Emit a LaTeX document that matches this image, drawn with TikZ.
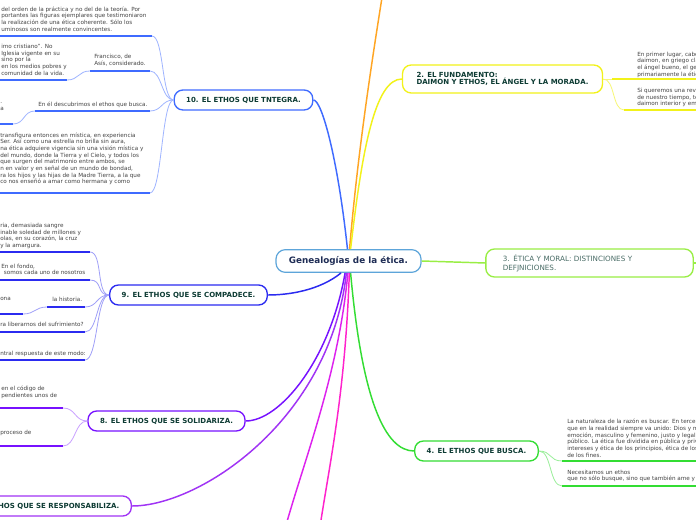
\documentclass[tikz,border=0pt]{standalone}
\usepackage{fontspec}
\setmainfont{DejaVu Sans}
\definecolor{rootline}{HTML}{5DA5DA}
\definecolor{rootink}{HTML}{1F2D55}
\definecolor{branchink}{HTML}{0D3B33}
\definecolor{leafink}{HTML}{444444}
\definecolor{orangeb}{HTML}{FFA523}
\definecolor{yellowb}{HTML}{F2F21A}
\definecolor{limeb}{HTML}{99EE44}
\definecolor{greenb}{HTML}{33DD33}
\definecolor{pinkb}{HTML}{FF22CC}
\definecolor{magb}{HTML}{DD22EE}
\definecolor{purpleb}{HTML}{A033F5}
\definecolor{violetb}{HTML}{7711FF}
\definecolor{blueb}{HTML}{2B2BF0}
\definecolor{skyb}{HTML}{3F6BFF}
\newcommand\leaffont{\fontsize{4.25}{5}\selectfont}
\newcommand\branchfont{\fontsize{5.25}{5.8}\selectfont\bfseries}
\begin{document}
\begin{tikzpicture}[x=0.75pt, y=-0.75pt,
    root/.style={draw=rootline, line width=0.9pt, rounded corners=7pt, fill=white, text=rootink,
      font=\fontsize{6.6}{8}\selectfont\bfseries, inner xsep=9.75pt, minimum height=17pt},
    branch/.style={draw=#1, line width=1pt, rounded corners=6.5pt, fill=white, text=branchink,
      font=\branchfont, inner xsep=9pt, minimum height=15pt},
    leaf/.style={anchor=north west, inner sep=0pt, align=left, text=leafink, font=\leaffont},
    link/.style={draw=#1, line width=1.1pt},
    twig/.style={draw=#1, line width=0.6pt},
    underline/.style={draw=#1, line width=1.4pt}]
    \useasboundingbox (0,0) rectangle (696,520);
    \fill[white] (0,0) rectangle (696,520);
    \clip (0,0) rectangle (696,520);
    % main topics
    \node[root] (root) at (348.5,261) {Genealogías de la ética.};
    \node[branch=yellowb, align=left, inner xsep=10.5pt, minimum height=21pt] (n2) at (502.5,79) {2. EL FUNDAMENTO:\\DAIMON Y ETHOS, EL ÁNGEL Y LA MORADA.};
    \node[branch=limeb, font=\fontsize{5.4}{6.7}\selectfont, text=branchink!75, align=left, text width=130pt, inner xsep=12.75pt, minimum height=21pt] (n3) at (589.5,263) {3. ÉTICA Y MORAL: DISTINCIONES Y\\DEFJNICIONES.};
    \node[branch=greenb] (n4) at (476.5,451) {4. EL ETHOS QUE BUSCA.};
    \node[branch=purpleb, anchor=east] (n7) at (132,506) {7. EL ETHOS QUE SE RESPONSABILIZA.};
    \node[branch=violetb] (n8) at (166.5,421) {8. EL ETHOS QUE SE SOLIDARIZA.};
    \node[branch=blueb] (n9) at (188.5,295) {9. EL ETHOS QUE SE COMPADECE.};
    \node[branch=skyb] (n10) at (243.5,100) {10. EL ETHOS QUE TNTEGRA.};
    \coordinate (n1) at (384,-15);
    \coordinate (n5) at (318,540);
    \coordinate (n6) at (282,540);
    \coordinate (n3out) at (720,263);
    % links from the centre
    \draw[link=orangeb] (root.85) .. controls (358,150) and (372,60) .. (n1);
    \draw[link=yellowb] (root.80) .. controls (362,150) and (375,79) .. (n2.west);
    \draw[link=limeb] (root.east) -- (n3.west);
    \draw[link=limeb] (n3.east) -- (n3out);
    \draw[link=greenb] (root.-80) .. controls (362,400) and (385,451) .. (n4.west);
    \draw[link=pinkb] (root.-86) .. controls (345,400) and (328,470) .. (n5);
    \draw[link=magb] (root.-93) .. controls (338,380) and (300,470) .. (n6);
    \draw[link=purpleb] (root.-100) .. controls (330,420) and (200,506) .. (n7.east);
    \draw[link=violetb] (root.-106) .. controls (330,360) and (280,421) .. (n8.east);
    \draw[link=blueb] (root.-122) .. controls (320,290) and (290,295) .. (n9.east);
    \draw[link=skyb] (root.95) .. controls (338,160) and (322,100) .. (n10.east);
    % 10
    \node[leaf] (l10a) at (1,6.5) {del orden de la práctica y no del de la teoría. Por\\portantes las figuras ejemplares que testimoniaron\\la realización de una ética coherente. Sólo los\\uminosos son realmente convincentes.};
    \coordinate (s10a) at (-5,36); \coordinate (e10a) at (152,36);
    \node[leaf] (l10b) at (94,54) {Francisco, de\\Asís, considerado.};
    \coordinate (s10b) at (90,71); \coordinate (e10b) at (150,71);
    \node[leaf] (l10b1) at (1,44) {imo cristiano". No\\Iglesia vigente en su\\sino por la\\en los medios pobres y\\comunidad de la vida.};
    \coordinate (s10b1) at (-5,80); \coordinate (e10b1) at (67,80);
    \node[leaf] (l10c) at (38,102) {En él descubrimos el ethos que busca.};
    \coordinate (s10c) at (35,111); \coordinate (e10c) at (150,111);
    \node[leaf] (l10c1) at (0,102.5) {.\\a};
    \coordinate (s10c1) at (-5,124); \coordinate (e10c1) at (13,124);
    \node[leaf] (l10d) at (0,132.5) {transfigura entonces en mística, en experiencia\\Ser. Así como una estrella no brilla sin aura,\\na ética adquiere vigencia sin una visión mística y\\del mundo, donde la Tierra y el Cielo, y todos los\\que surgen del matrimonio entre ambos, se\\n en valor y en señal de un mundo de bondad,\\ra los hijos y las hijas de la Madre Tierra, a la que\\co nos enseñó a amar como hermana y como};
    \coordinate (s10d) at (-5,193); \coordinate (e10d) at (150,193);
    \foreach \k in {a,b,c,d}
      \draw[twig=skyb!50] (n10.west) .. controls +(-12,0) and +(12,0) .. (e10\k);
    \draw[twig=skyb!50] (s10b) .. controls +(-12,0) and +(12,0) .. (e10b1);
    \draw[twig=skyb!50] (s10c) .. controls +(-12,0) and +(12,0) .. (e10c1);
    \foreach \k in {a,b,b1,c,c1,d}
      \draw[underline=skyb] (s10\k) -- (e10\k);
    % 9
    \node[leaf] (l9a) at (0,223) {ria, demasiada sangre\\inable soledad de millones y\\olas, en su corazón, la cruz\\y la amargura.};
    \coordinate (s9a) at (-5,252); \coordinate (e9a) at (90,252);
    \node[leaf] (l9b) at (1,263.5) {En el fondo,\\\hspace*{2pt}somos cada uno de nosotros};
    \coordinate (s9b) at (-5,280); \coordinate (e9b) at (90,280);
    \node[leaf] (l9c) at (52,297) {la historia.};
    \coordinate (s9c) at (47,307); \coordinate (e9c) at (85,307);
    \node[leaf] (l9c1) at (0,297) {ona};
    \coordinate (s9c1) at (-5,314); \coordinate (e9c1) at (23,314);
    \node[leaf] (l9d) at (0,322) {ra liberarnos del sufrimiento?};
    \coordinate (s9d) at (-5,332); \coordinate (e9d) at (85,332);
    \node[leaf] (l9e) at (0,350.5) {ntral respuesta de este modo:};
    \coordinate (s9e) at (-5,360); \coordinate (e9e) at (85,360);
    \foreach \k in {a,b,c,d,e}
      \draw[twig=blueb!45] (n9.west) .. controls +(-13,0) and +(13,0) .. (e9\k);
    \draw[twig=blueb!45] (s9c) .. controls +(-12,0) and +(12,0) .. (e9c1);
    \foreach \k in {a,b,c,c1,d,e}
      \draw[underline=blueb] (s9\k) -- (e9\k);
    % 8
    \node[leaf] (l8a) at (1,386) {en el código de\\pendientes unos de};
    \coordinate (s8a) at (-5,408); \coordinate (e8a) at (63,408);
    \node[leaf] (l8b) at (0,430) {proceso de};
    \coordinate (s8b) at (-5,446); \coordinate (e8b) at (63,446);
    \foreach \k in {a,b}
      \draw[twig=violetb!40] (n8.west) .. controls +(-13,0) and +(13,0) .. (e8\k);
    \foreach \k in {a,b}
      \draw[underline=violetb] (s8\k) -- (e8\k);
    % 2
    \node[leaf] (l2a) at (637,51.5) {En primer lugar, cabe\\daimon, en griego clá\\el ángel bueno, el gen\\primariamente la étic};
    \coordinate (s2a) at (612,79); \coordinate (e2a) at (700,79);
    \node[leaf] (l2b) at (637,88) {Si queremos una revo\\de nuestro tiempo, te\\daimon interior y emp};
    \coordinate (s2b) at (624,110); \coordinate (e2b) at (700,110);
    \draw[twig=yellowb!60] (n2.east) -- (s2a);
    \draw[twig=yellowb!60] (n2.east) .. controls +(12,0) and +(-12,0) .. (s2b);
    \foreach \k in {a,b}
      \draw[underline=yellowb] (s2\k) -- (e2\k);
    % 4
    \node[leaf] (l4a) at (567,419) {La naturaleza de la razón es buscar. En tercer\\que en la realidad siempre va unido: Dios y m\\emoción, masculino y femenino, justo y legal,\\público. La ética fue dividida en pública y priva\\intereses y ética de los principios, ética de los\\de los fines.};
    \coordinate (s4a) at (562,461); \coordinate (e4a) at (700,461);
    \node[leaf] (l4b) at (567,469.5) {Necesitamos un ethos\\que no sólo busque, sino que también ame y c};
    \coordinate (s4b) at (562,486); \coordinate (e4b) at (700,486);
    \foreach \k in {a,b}
      \draw[twig=greenb!50] (n4.east) .. controls +(13,0) and +(-13,0) .. (s4\k);
    \foreach \k in {a,b}
      \draw[underline=greenb] (s4\k) -- (e4\k);
\end{tikzpicture}
\end{document}
